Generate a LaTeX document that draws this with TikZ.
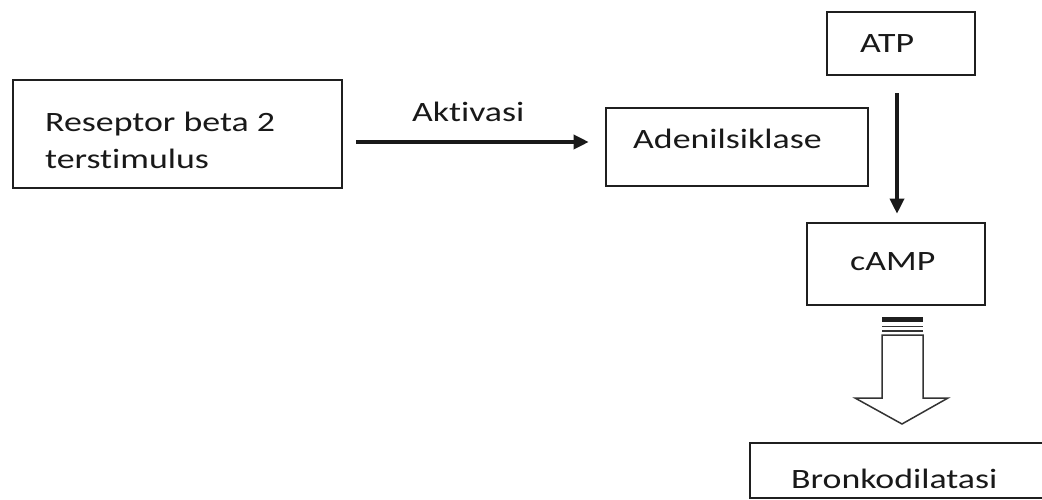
\documentclass[tikz,border=0pt]{standalone}
\usepackage{fontspec}
\usepackage{graphicx}
\setmainfont{Carlito}[RawFeature={-liga,-clig}]
\usetikzlibrary{arrows.meta,calc}
\newcommand{\sxx}[1]{\scalebox{1.28}[1]{#1}}
\tikzset{
  boxnode/.style={draw=black!88,line width=2.6pt,rectangle,inner sep=0pt},
  lbl/.style={anchor=base west,inner sep=0pt,text=black!90,font=\fontsize{28}{37}\selectfont},
  conn/.style={draw=black!90,line width=3.4pt,-{Triangle[length=15pt,width=14pt]}},
}
\begin{document}
\begin{tikzpicture}[x=1pt,y=-1pt]
\clip (0,0) rectangle (1042,500);
\fill[white] (0,0) rectangle (1042,500);
% boxes
\node[boxnode,minimum width=329pt,minimum height=108pt] (rs) at (177.5,134) {};
\node[boxnode,minimum width=262pt,minimum height=78pt] (ad) at (737,147) {};
\node[boxnode,minimum width=148pt,minimum height=63pt] (atp) at (901,43.5) {};
\node[boxnode,minimum width=178pt,minimum height=82pt] (camp) at (896,264) {};
\node[boxnode,minimum width=310pt,minimum height=55pt] (bk) at (905,470.5) {};
% texts
\node[lbl] (t1) at (45,132) {\sxx{Reseptor beta 2}};
\node[lbl] (t2) at (45,169) {\sxx{terstimulus}};
\node[lbl] (ak) at (412,122) {\sxx{Aktivasi}};
\node[lbl] (t3) at (633,149) {\sxx{Adenilsiklase}};
\node[lbl] (t4) at (860,53) {\sxx{ATP}};
\node[lbl] (t5) at (850,270) {\sxx{cAMP}};
\node[lbl] (t6) at (791,488) {\sxx{Bronkodilatasi}};
% connectors
\draw[conn] ([xshift=13pt,yshift=-8pt]rs.east) -- ([xshift=-16pt,yshift=5pt]ad.west);
\draw[conn] ([xshift=-4pt,yshift=-17pt]atp.south) -- ([xshift=1pt,yshift=8pt]camp.north);
% hollow striped arrow from cAMP to Bronkodilatasi
\fill[black!88] (882,316.5) rectangle (923,322);
\draw[black!80,line width=1.5pt] (882,326.5) -- (923,326.5);
\draw[black!80,line width=1.5pt] (882,331) -- (923,331);
\draw[black!80,line width=1.5pt,line join=miter]
  (882,335) -- (923,335) -- (923,398) -- (948,398) -- (902,424) -- (855,398) -- (882,398) -- cycle;
\end{tikzpicture}
\end{document}
